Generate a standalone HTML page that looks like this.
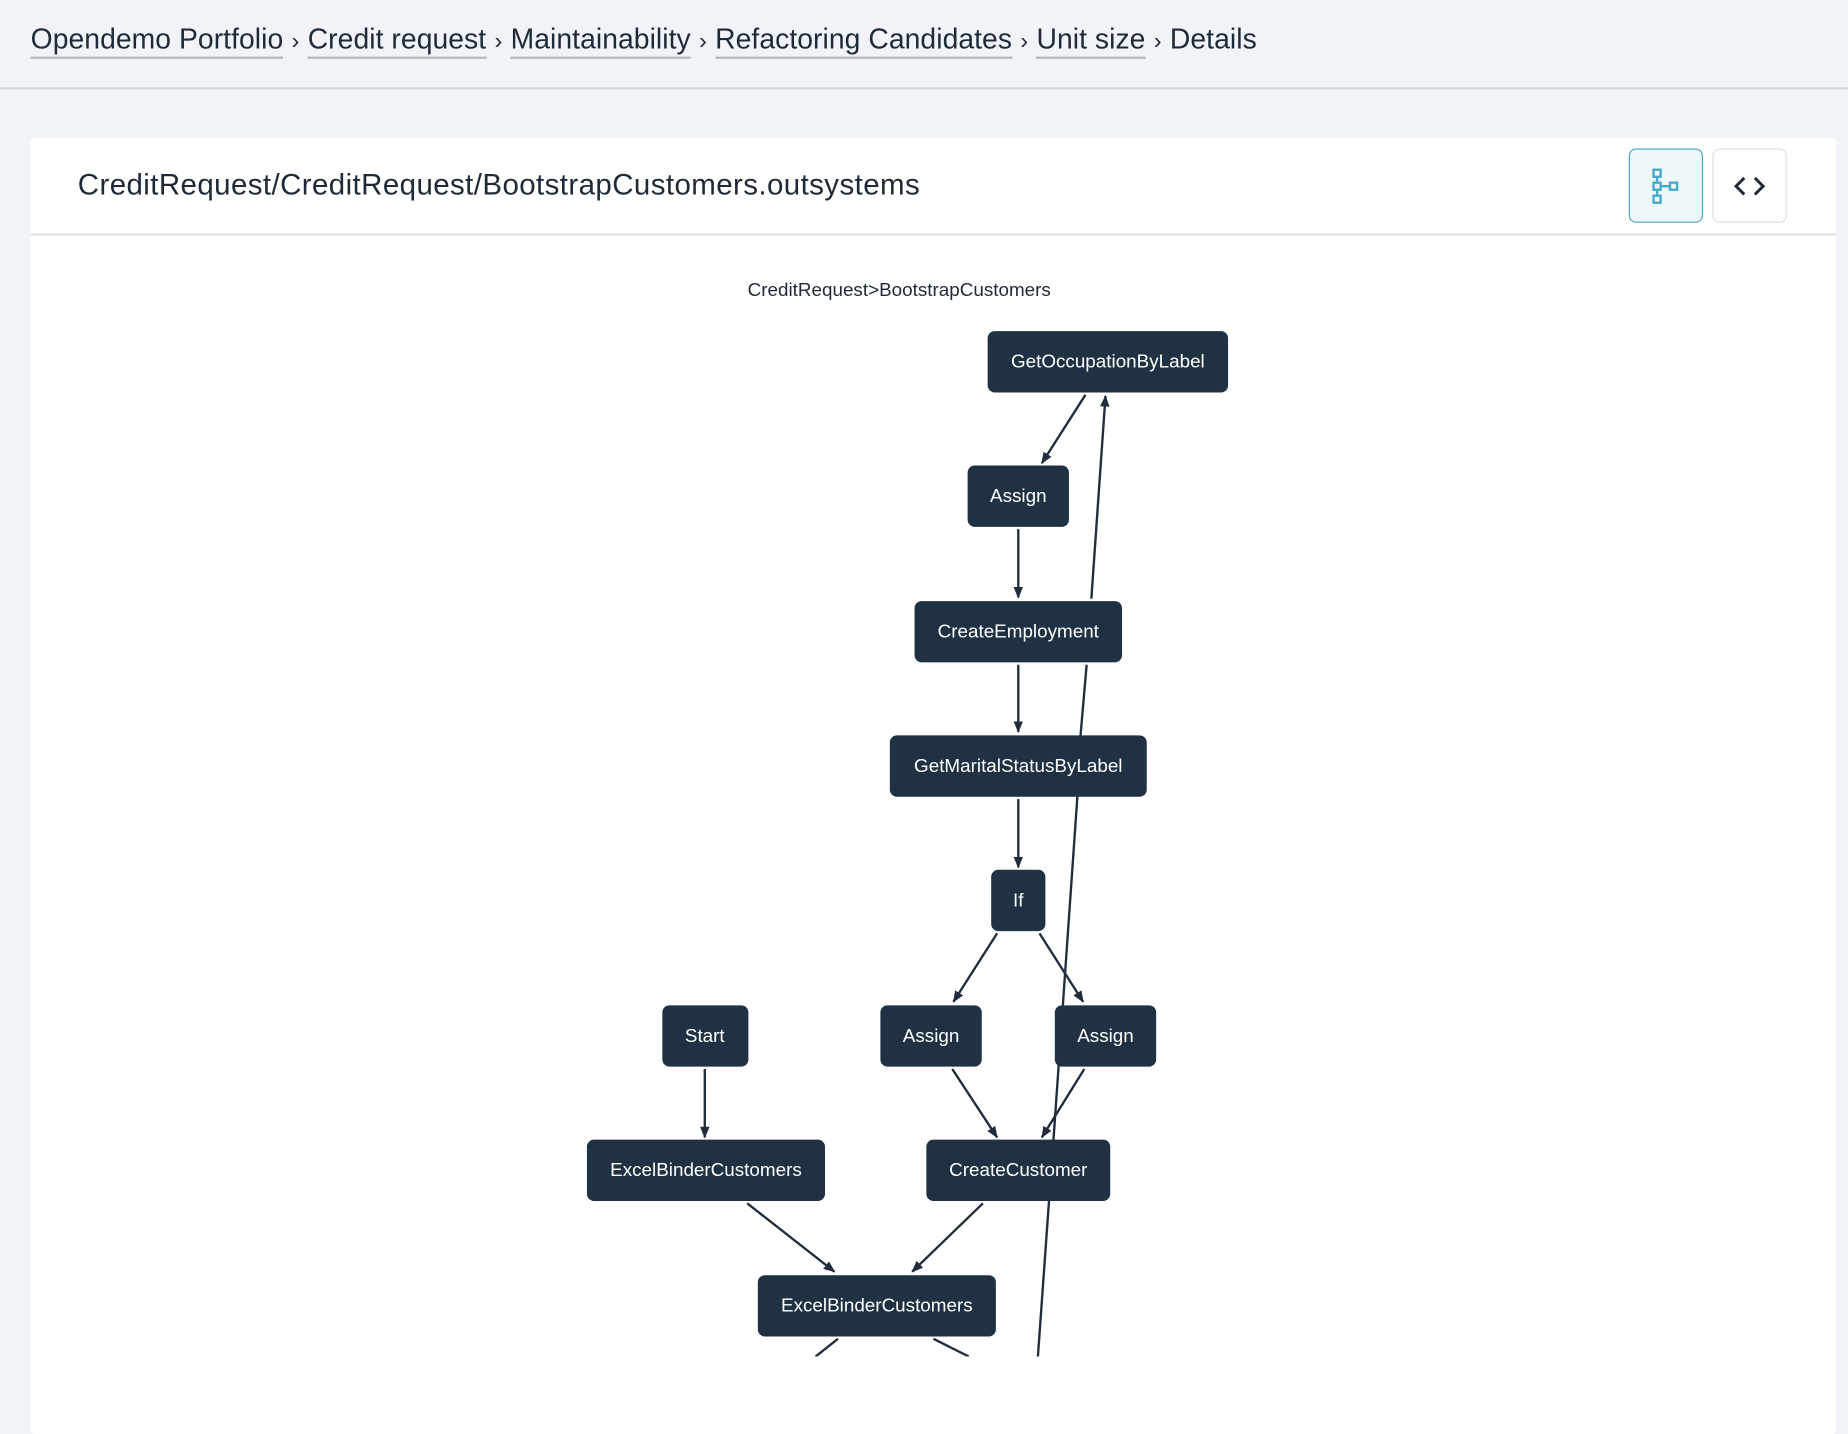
<!DOCTYPE html>
<html><head><meta charset="utf-8"><style>
html,body{margin:0;padding:0;width:1848px;height:1356px;overflow:hidden;background:#f0f4f8;}
#w{position:absolute;left:0;top:0;width:1568px;height:1151px;transform:scale(1.17857);transform-origin:0 0;font-family:"Liberation Sans",sans-serif;color:#1e2a38;}
.bc{position:absolute;top:20px;left:26px;font-size:24px;letter-spacing:0.05px;white-space:nowrap;}
.bc a{color:#1e2a38;text-decoration:none;border-bottom:2px solid #b4bac0;padding-bottom:1px;}
.bc span.s{margin:0 7px;font-size:20px;}
.hline{position:absolute;left:0;top:74px;width:1568px;height:2px;background:#d4d7db;}
.card{position:absolute;left:26px;top:117px;width:1532px;height:1100px;background:#fff;border-radius:4px;}
.ch{position:absolute;left:0;top:0;width:100%;height:81px;border-bottom:2px solid #e0e2e4;}
.title{position:absolute;left:40px;top:26px;font-size:25px;letter-spacing:0.35px;white-space:nowrap;}
.btn{position:absolute;top:9px;width:61px;height:61px;border-radius:6px;border:1.5px solid #ddd;background:#fff;}
.btn.a{border-color:#4aa8c8;background:#eef7fa;}
</style></head><body><div id="w">
<div class="bc"><a>Opendemo Portfolio</a><span class="s">›</span><a>Credit request</a><span class="s">›</span><a>Maintainability</a><span class="s">›</span><a>Refactoring Candidates</a><span class="s">›</span><a>Unit size</a><span class="s">›</span>Details</div>
<div class="hline"></div>
<div class="card"><div class="ch"><div class="title">CreditRequest/CreditRequest/BootstrapCustomers.outsystems</div>
<div class="btn a" style="left:1356px"><svg width="61" height="61" viewBox="0 0 61 61"><g fill="none" stroke="#4aa8c8" stroke-width="2"><rect x="20" y="17" width="6" height="6"/><rect x="20" y="28" width="6" height="6"/><rect x="20" y="39" width="6" height="6"/><rect x="34" y="28" width="6" height="6"/><line x1="23" y1="23" x2="23" y2="28"/><line x1="23" y1="34" x2="23" y2="39"/><line x1="26" y1="31" x2="34" y2="31"/></g></svg></div>
<div class="btn" style="left:1427px"><svg width="61" height="61" viewBox="0 0 61 61"><g fill="none" stroke="#1e2a38" stroke-width="2.5"><polyline points="26,24 19,31 26,38"/><polyline points="35,24 42,31 35,38"/></g></svg></div>
</div></div>
<svg style="position:absolute;left:0;top:0" width="1568" height="1151" viewBox="0 0 1568 1151" font-family="Liberation Sans, sans-serif">
<defs><marker id="ar" markerWidth="10" markerHeight="10" refX="9" refY="5" orient="auto" markerUnits="userSpaceOnUse"><path d="M0,1 L10,5 L0,9 z" fill="#1f2d3d"/></marker></defs>
<text x="763" y="251" font-size="16" text-anchor="middle" fill="#1e2a38">CreditRequest&gt;BootstrapCustomers</text>
<g stroke="#1f2d3d" stroke-width="2" fill="none">
<polyline points="880,1160 890,1020 894,965 914,678 917,622 922,564"/>
<line x1="921" y1="335" x2="884" y2="393" marker-end="url(#ar)"/>
<line x1="864" y1="449" x2="864" y2="507" marker-end="url(#ar)"/>
<line x1="926" y1="508" x2="938" y2="336" marker-end="url(#ar)"/>
<line x1="864" y1="564" x2="864" y2="621" marker-end="url(#ar)"/>
<line x1="864" y1="678" x2="864" y2="736" marker-end="url(#ar)"/>
<line x1="846" y1="792" x2="809" y2="850" marker-end="url(#ar)"/>
<line x1="882" y1="792" x2="919" y2="850" marker-end="url(#ar)"/>
<line x1="598" y1="907" x2="598" y2="965" marker-end="url(#ar)"/>
<line x1="808" y1="907" x2="846" y2="965" marker-end="url(#ar)"/>
<line x1="920" y1="907" x2="884" y2="965" marker-end="url(#ar)"/>
<line x1="634" y1="1021" x2="708" y2="1079" marker-end="url(#ar)"/>
<line x1="834" y1="1021" x2="774" y2="1079" marker-end="url(#ar)"/>
<line x1="711" y1="1136" x2="692" y2="1151"/>
<line x1="792" y1="1136" x2="822" y2="1151"/>
</g>
<g fill="#1f3142">
<rect x="838" y="281" width="204" height="52" rx="6"/>
<rect x="821" y="395" width="86" height="52" rx="6"/>
<rect x="776" y="510" width="176" height="52" rx="6"/>
<rect x="755" y="624" width="218" height="52" rx="6"/>
<rect x="841" y="738" width="46" height="52" rx="6"/>
<rect x="562" y="853" width="73" height="52" rx="6"/>
<rect x="747" y="853" width="86" height="52" rx="6"/>
<rect x="895" y="853" width="86" height="52" rx="6"/>
<rect x="498" y="967" width="202" height="52" rx="6"/>
<rect x="786" y="967" width="156" height="52" rx="6"/>
<rect x="643" y="1082" width="202" height="52" rx="6"/>
</g>
<g fill="#fff" font-size="16" text-anchor="middle">
<text x="940" y="312">GetOccupationByLabel</text>
<text x="864" y="426">Assign</text>
<text x="864" y="541">CreateEmployment</text>
<text x="864" y="655">GetMaritalStatusByLabel</text>
<text x="864" y="769">If</text>
<text x="598" y="884">Start</text>
<text x="790" y="884">Assign</text>
<text x="938" y="884">Assign</text>
<text x="599" y="998">ExcelBinderCustomers</text>
<text x="864" y="998">CreateCustomer</text>
<text x="744" y="1113">ExcelBinderCustomers</text>
</g>
</svg>
</div></body></html>
